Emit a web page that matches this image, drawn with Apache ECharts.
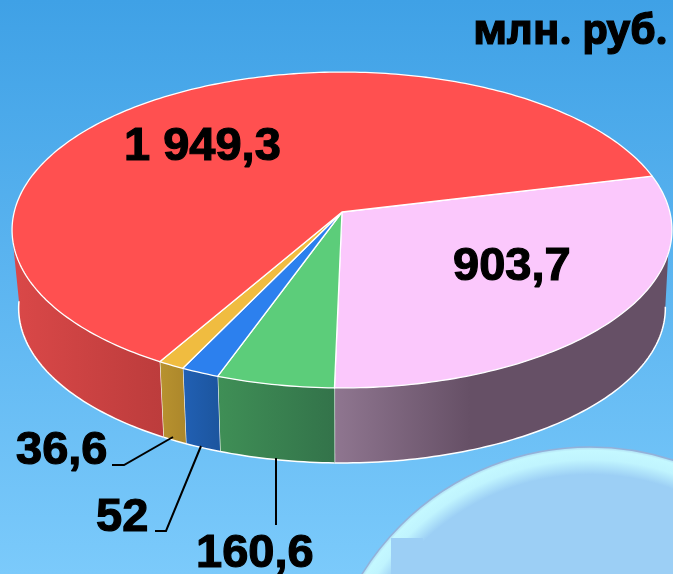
<!DOCTYPE html>
<html>
<head>
<meta charset="utf-8">
<title>chart</title>
<style>
  html, body { margin: 0; padding: 0; }
  #chart { width: 673px; height: 574px; }
</style>
<script src="https://cdn.jsdelivr.net/npm/echarts@6/dist/echarts.min.js"></script>
</head>
<body>
<div id="chart"></div>
<script>
// значения секторов, по часовой стрелке от правого края
const sliceValues = [903.7, 160.6, 52, 36.6, 1949.3];
const sliceLabels = ["903,7", "160,6", "52", "36,6", "1 949,3"];
const topColors = ["#fbc8fc", "#5ccd7a", "#2c80ee", "#f0bc40", "#ff5050"];
const wallLeftColors = ["#8f7690", "#3f8f56", "#2160b4", "#b8922f", "#da4848"];
const wallRightColors = ["#665066", "#33734a", "#1c559e", "#ac872b", "#bc3c3c"];
const unitLabel = "млн. руб.";

// геометрия псевдо-3D диска
const centerX = 342, centerY = 212;
const radiusX = 327.8, radiusY = 155.9, tilt = 0.1139;
const startAngle = -13.7;
const bottomScale = 0.98, depth = 78.5;
// видимая часть стенки: углы касания для верхнего и нижнего эллипса
const wallFrom = 15, wallTo = 170;
const wallFromBottom = 6, wallToBottom = 176;

const total = sliceValues.reduce((a, b) => a + b, 0);
const sliceAngles = [];
let angleNow = startAngle;
sliceValues.forEach((v) => {
  const next = angleNow + (v / total) * 360;
  sliceAngles.push([angleNow, next]);
  angleNow = next;
});

function rimPoint(deg, isBottom) {
  const rad = (deg * Math.PI) / 180;
  const w = 1 - tilt * Math.sin(rad);
  const s = isBottom ? bottomScale : 1;
  return [
    centerX + (s * radiusX * Math.cos(rad)) / w,
    centerY + (isBottom ? depth : 0) + (s * radiusY * Math.sin(rad)) / w,
  ];
}
function rimArc(from, to, isBottom) {
  const steps = Math.max(2, Math.ceil(to - from));
  const pts = [];
  for (let i = 0; i <= steps; i++) {
    pts.push(rimPoint(from + ((to - from) * i) / steps, isBottom));
  }
  return pts;
}

function renderWall(params) {
  const i = params.dataIndex;
  const a1 = Math.max(sliceAngles[i][0], wallFrom);
  const a2 = Math.min(sliceAngles[i][1], wallTo);
  const b1 = a1 === wallFrom ? wallFromBottom : a1;
  const b2 = a2 === wallTo ? wallToBottom : a2;
  const top = rimArc(a1, a2, false);
  const bottom = rimArc(b1, b2, true);
  const xs = top.concat(bottom).map((p) => p[0]);
  const x1 = Math.min(...xs);
  const x2 = i === 0 ? 470 : Math.max(...xs);
  const children = [
    {
      type: "polygon",
      shape: { points: top.concat(bottom.slice().reverse()) },
      style: {
        fill: {
          type: "linear", x: x1, y: 0, x2: x2, y2: 0, global: true,
          colorStops: [
            { offset: 0, color: wallLeftColors[i] },
            { offset: 1, color: wallRightColors[i] },
          ],
        },
      },
    },
    {
      type: "polyline",
      shape: { points: bottom },
      style: { fill: null, stroke: "#ffffff", lineWidth: 1.5 },
    },
  ];
  if (a2 < wallTo) {
    children.push({
      type: "polyline",
      shape: { points: [rimPoint(a2, false), rimPoint(a2, true)] },
      style: { fill: null, stroke: "#ffffff", lineWidth: 1.2 },
    });
  }
  return { type: "group", children: children };
}

function renderTop(params) {
  const [a1, a2] = sliceAngles[params.dataIndex];
  return {
    type: "polygon",
    shape: { points: [[centerX, centerY]].concat(rimArc(a1, a2, false)) },
    style: {
      fill: topColors[params.dataIndex],
      stroke: "#ffffff",
      lineWidth: 1.3,
      lineJoin: "round",
    },
  };
}

function label(text, x, y, size, family) {
  return {
    type: "text",
    z: 20,
    x: x,
    y: y,
    style: {
      text: text,
      fill: "#000",
      stroke: "#000",
      lineWidth: 1.2,
      font: "bold " + size + "px " + family,
      textAlign: "left",
      textVerticalAlign: "middle",
    },
  };
}
function leader(points) {
  return {
    type: "polyline",
    z: 20,
    shape: { points: points },
    style: { fill: null, stroke: "#000", lineWidth: 2 },
  };
}

const labelFont = '"Liberation Sans"';
const chart = echarts.init(document.getElementById("chart"));
chart.setOption({
  animation: false,
  backgroundColor: {
    type: "linear", x: 0, y: 0, x2: 0, y2: 1,
    colorStops: [
      { offset: 0, color: "#3fa1e6" },
      { offset: 1, color: "#7bcafb" },
    ],
  },
  graphic: [
    {
      type: "circle",
      z: 1,
      shape: { cx: 590, cy: 715, r: 268 },
      style: {
        stroke: "#93b1d9",
        lineWidth: 1.5,
        fill: {
          type: "radial", x: 0.5, y: 0.5, r: 0.5,
          colorStops: [
            { offset: 0, color: "#9ccff5" },
            { offset: 0.895, color: "#9ccff5" },
            { offset: 0.95, color: "#c0f4fe" },
            { offset: 0.985, color: "#c4f8ff" },
            { offset: 1, color: "#a8d4ee" },
          ],
        },
      },
    },
    {
      type: "rect",
      z: 2,
      shape: { x: 391, y: 538, width: 32, height: 36 },
      style: { fill: "#9ccff5" },
    },
    label(unitLabel, 473, 32, 41, '"Noto Sans"'),
    label(sliceLabels[4], 124, 147, 47, labelFont),
    label(sliceLabels[0], 453, 267, 47, labelFont),
    label(sliceLabels[3], 16, 451, 47, labelFont),
    label(sliceLabels[2], 96, 518, 47, labelFont),
    label(sliceLabels[1], 196, 554, 47, labelFont),
    leader([[112, 465], [124, 465], [173, 437]]),
    leader([[155, 531], [166, 531], [201, 446]]),
    leader([[276, 458], [276, 525]]),
  ],
  series: [
    {
      type: "custom",
      coordinateSystem: "none",
      z: 5,
      silent: true,
      data: sliceValues.map((v) => [v]),
      renderItem: renderWall,
    },
    {
      type: "custom",
      coordinateSystem: "none",
      z: 6,
      silent: true,
      data: sliceValues.map((v) => [v]),
      renderItem: renderTop,
    },
  ],
});
</script>
</body>
</html>
